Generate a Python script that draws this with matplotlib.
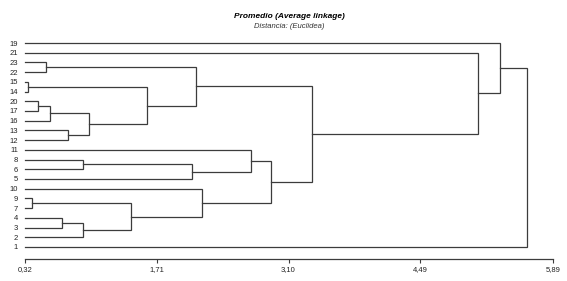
import matplotlib
matplotlib.use("Agg")
import matplotlib.pyplot as plt

# leaves, top to bottom as in the dendrogram
leaves = ["19", "21", "23", "22", "15", "14", "20", "17", "16", "13", "12",
          "11", "8", "6", "5", "10", "9", "7", "4", "3", "2", "1"]

# merges: (cluster a, cluster b, distance); merge k becomes cluster "m{k}"
merges = [
    ("15", "14", 0.355),
    ("9", "7", 0.397),
    ("20", "17", 0.46),
    ("23", "22", 0.54),
    ("m2", "16", 0.58),
    ("4", "3", 0.706),
    ("13", "12", 0.776),
    ("8", "6", 0.927),
    ("m5", "2", 0.934),
    ("m4", "m6", 0.997),
    ("m1", "m8", 1.433),
    ("m0", "m9", 1.607),
    ("m7", "5", 2.085),
    ("m3", "m11", 2.12),
    ("10", "m10", 2.19),
    ("11", "m12", 2.706),
    ("m15", "m14", 2.91),
    ("m13", "m16", 3.35),
    ("21", "m17", 5.10),
    ("19", "m18", 5.327),
    ("m19", "1", 5.618),
]

xticks = [0.32, 1.71, 3.10, 4.49, 5.89]
xmin, xmax = 0.32, 5.89

plt.rcParams['font.family'] = ['Liberation Sans', 'DejaVu Sans']
line_col = '#3c3c3c'

fig = plt.figure(figsize=(5.67, 2.81), dpi=100)
ax = fig.add_axes([25 / 567, 1 - 259 / 281, (553 - 25) / 567, (259 - 38) / 281])

ypos = {lab: i for i, lab in enumerate(leaves)}
xpos = {lab: xmin for lab in leaves}
for k, (a, b, h) in enumerate(merges):
    ya, yb = ypos[a], ypos[b]
    ax.plot([xpos[a], h, h, xpos[b]], [ya, ya, yb, yb], color=line_col,
            lw=0.9, solid_joinstyle='miter', clip_on=False)
    ypos["m%d" % k] = (ya + yb) / 2
    xpos["m%d" % k] = h

ax.set_xlim(xmin, xmax)
ax.set_ylim(len(leaves) - 1 + 12 / 9.714, -5 / 9.714)

ax.set_yticks(range(len(leaves)))
ax.set_yticklabels(leaves, fontsize=5.5, color='#222222')
ax.tick_params(axis='y', length=0, pad=5)

ax.set_xticks(xticks)
ax.set_xticklabels([("%.2f" % t).replace(".", ",") for t in xticks],
                   fontsize=5.5, color='#222222')
ax.tick_params(axis='x', length=3, width=0.8, color=line_col, pad=2)

for s in ['top', 'right', 'left']:
    ax.spines[s].set_visible(False)
ax.spines['bottom'].set_color(line_col)
ax.spines['bottom'].set_linewidth(0.9)

fig.text(289 / 567, 1 - 16 / 281, "Promedio (Average linkage)", fontsize=6,
         fontweight='bold', fontstyle='italic', ha='center', va='center')
fig.text(289 / 567, 1 - 27 / 281, "Distancia: (Euclidea)", fontsize=5.5,
         fontstyle='italic', ha='center', va='center', color='#333333')

fig.savefig("out.png", dpi=100)
